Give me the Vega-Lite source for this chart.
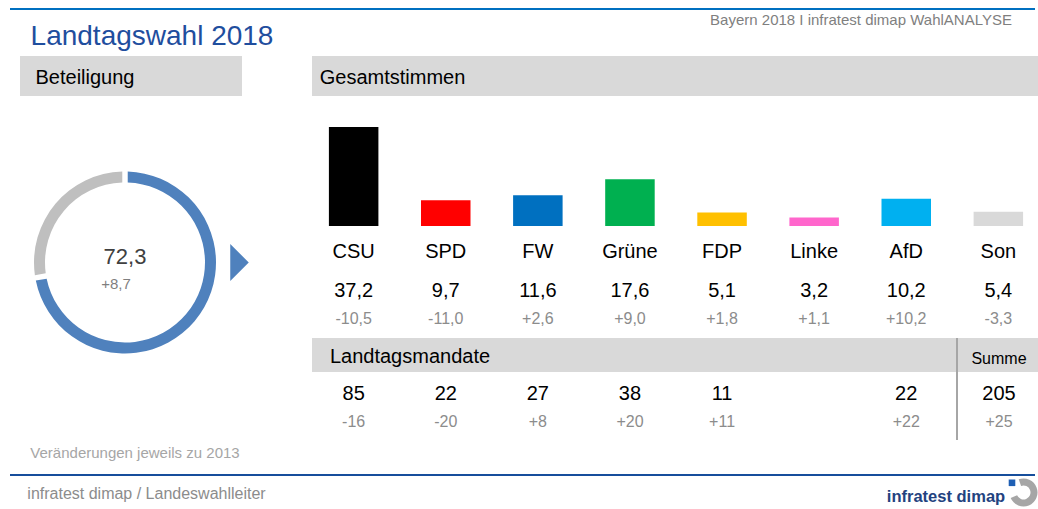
{
  "$schema": "https://vega.github.io/schema/vega-lite/v6.json",
  "background": "white",
  "padding": {"left": 10, "top": 8, "right": 0, "bottom": 0},
  "spacing": 0,
  "config": {
    "font": "Liberation Sans",
    "view": {"stroke": null},
    "concat": {"spacing": 0},
    "locale": {"number": {"decimal": ",", "thousands": ".", "grouping": [3], "currency": ["", " €"], "minus": "-"}}
  },
  "datasets": {
    "parties": [
      {"party": "CSU", "share": 37.2, "shareChange": -10.5, "seats": 85, "seatChange": -16},
      {"party": "SPD", "share": 9.7, "shareChange": -11.0, "seats": 22, "seatChange": -20},
      {"party": "FW", "share": 11.6, "shareChange": 2.6, "seats": 27, "seatChange": 8},
      {"party": "Grüne", "share": 17.6, "shareChange": 9.0, "seats": 38, "seatChange": 20},
      {"party": "FDP", "share": 5.1, "shareChange": 1.8, "seats": 11, "seatChange": 11},
      {"party": "Linke", "share": 3.2, "shareChange": 1.1, "seats": null, "seatChange": null},
      {"party": "AfD", "share": 10.2, "shareChange": 10.2, "seats": 22, "seatChange": 22},
      {"party": "Son", "share": 5.4, "shareChange": -3.3, "seats": null, "seatChange": null}
    ],
    "total": [{"label": "Summe", "seats": 205, "seatChange": 25}],
    "turnout": [
      {"segment": "Wähler", "value": 72.3, "change": 8.7},
      {"segment": "Nichtwähler", "value": 27.7, "change": null}
    ]
  },
  "vconcat": [
    {"width": 1025, "height": 2, "data": {"values": [{"line": "oben"}]}, "mark": {"type": "rect", "color": "#0070c0"}},
    {
      "hconcat": [
        {"width": 284, "height": 46, "data": {"values": [{"label": "Landtagswahl 2018"}]},
         "mark": {"type": "text", "fontSize": 28, "color": "#1f4e9e", "baseline": "alphabetic", "dy": 12},
         "encoding": {"text": {"field": "label", "type": "nominal"}}},
        {"width": 316, "height": 20, "data": {"values": [{"label": "Bayern 2018 I infratest dimap WahlANALYSE"}]},
         "mark": {"type": "text", "fontSize": 15, "color": "#7f7f7f", "baseline": "alphabetic", "dy": 5},
         "encoding": {"text": {"field": "label", "type": "nominal"}}}
      ],
      "spacing": 409
    },
    {
      "hconcat": [
        {"width": 10, "height": 1, "data": {"values": [{"leer": 1}]}, "mark": {"type": "rect", "opacity": 0}},
        {
          "vconcat": [
            {"hconcat": [
              {"width": 130, "height": 40, "data": {"values": [{"label": "Beteiligung"}]},
               "layer": [
                 {"mark": {"type": "rect", "color": "#d9d9d9"}},
                 {"mark": {"type": "text", "fontSize": 20, "color": "#000000", "baseline": "alphabetic", "dy": 8},
                  "encoding": {"text": {"field": "label", "type": "nominal"}}}
               ]},
              {"width": 92, "height": 40, "data": {"values": [{"band": "Kopf"}]}, "mark": {"type": "rect", "color": "#d9d9d9"}}
            ], "spacing": 0},
            {"hconcat": [
              {"width": 210, "height": 333, "data": {"name": "turnout"},
               "layer": [
                 {"mark": {"type": "arc", "innerRadius": 80, "outerRadius": 91, "padAngle": 0.045},
                  "encoding": {
                    "theta": {"field": "value", "type": "quantitative", "stack": true},
                    "order": {"field": "value", "type": "quantitative", "sort": "descending"},
                    "fill": {"condition": {"test": "datum.segment === 'Wähler'", "value": "#4f81bd"}, "value": "#bfbfbf"}
                  }},
                 {"transform": [{"filter": "datum.segment === 'Wähler'"}],
                  "mark": {"type": "text", "fontSize": 22, "color": "#404040", "baseline": "alphabetic", "dy": 1},
                  "encoding": {"text": {"field": "value", "type": "quantitative", "format": ".1f"}}},
                 {"transform": [{"filter": "datum.segment === 'Wähler'"}],
                  "mark": {"type": "text", "fontSize": 15, "color": "#7f7f7f", "baseline": "alphabetic", "dy": 26, "dx": -9},
                  "encoding": {"text": {"field": "change", "type": "quantitative", "format": "+.1f"}}}
               ]},
              {"width": 19, "height": 333, "data": {"values": [{"marker": "Pfeil"}]},
               "mark": {"type": "point", "shape": "M-0.5,-1L0.5,0L-0.5,1Z", "size": 1369, "filled": true, "color": "#4f81bd", "opacity": 1}}
            ], "spacing": 0}
          ],
          "spacing": 0
        },
        {"width": 63, "height": 1, "data": {"values": [{"leer": 1}]}, "mark": {"type": "rect", "opacity": 0}},
        {
          "vconcat": [
            {"hconcat": [
              {"width": 161, "height": 40, "data": {"values": [{"label": "Gesamtstimmen"}]},
               "layer": [
                 {"mark": {"type": "rect", "color": "#d9d9d9"}},
                 {"mark": {"type": "text", "fontSize": 20, "color": "#000000", "baseline": "alphabetic", "dy": 8},
                  "encoding": {"text": {"field": "label", "type": "nominal"}}}
               ]},
              {"width": 567, "height": 40, "data": {"values": [{"band": "Kopf"}]}, "mark": {"type": "rect", "color": "#d9d9d9"}}
            ], "spacing": 0},
            {"width": 728, "height": 130, "data": {"name": "parties"},
             "mark": {"type": "bar"},
             "encoding": {
               "x": {"field": "party", "type": "nominal",
                     "scale": {"type": "band", "domain": ["CSU", "SPD", "FW", "Grüne", "FDP", "Linke", "AfD", "Son"], "paddingInner": 0.4625, "paddingOuter": 0.1835},
                     "axis": null},
               "y": {"field": "share", "type": "quantitative", "scale": {"domain": [0, 48.85], "nice": false}, "axis": null},
               "color": {"field": "party", "type": "nominal",
                         "scale": {"domain": ["CSU", "SPD", "FW", "Grüne", "FDP", "Linke", "AfD", "Son"],
                                   "range": ["#000000", "#ff0000", "#0070c0", "#00b050", "#ffc000", "#ff66cc", "#00b0f0", "#d9d9d9"]},
                         "legend": null}
             }},
            {"width": 728, "height": 112, "data": {"name": "parties"},
             "encoding": {
               "x": {"field": "party", "type": "nominal", "bandPosition": 0.5,
                     "scale": {"type": "band", "domain": ["CSU", "SPD", "FW", "Grüne", "FDP", "Linke", "AfD", "Son"], "paddingInner": 0.4625, "paddingOuter": 0.1835},
                     "axis": null}
             },
             "layer": [
               {"mark": {"type": "text", "fontSize": 20, "color": "#000000", "baseline": "alphabetic", "dy": -24},
                "encoding": {"text": {"field": "party", "type": "nominal"}}},
               {"mark": {"type": "text", "fontSize": 20, "color": "#000000", "baseline": "alphabetic", "dy": 15},
                "encoding": {"text": {"field": "share", "type": "quantitative", "format": ".1f"}}},
               {"mark": {"type": "text", "fontSize": 16, "color": "#8c8c8c", "baseline": "alphabetic", "dy": 42},
                "encoding": {"text": {"field": "shareChange", "type": "quantitative", "format": "+.1f"}}}
             ]},
            {"hconcat": [
              {"vconcat": [
                {"hconcat": [
                  {"width": 196, "height": 34, "data": {"values": [{"label": "Landtagsmandate"}]},
                   "layer": [
                     {"mark": {"type": "rect", "color": "#d9d9d9"}},
                     {"mark": {"type": "text", "fontSize": 20, "color": "#000000", "baseline": "alphabetic", "dy": 8},
                      "encoding": {"text": {"field": "label", "type": "nominal"}}}
                   ]},
                  {"width": 448, "height": 34, "data": {"values": [{"band": "Kopf"}]}, "mark": {"type": "rect", "color": "#d9d9d9"}}
                ], "spacing": 0},
                {"width": 644, "height": 68, "data": {"name": "parties"},
                 "transform": [{"filter": "isValid(datum.seats)"}],
                 "encoding": {
                   "x": {"field": "party", "type": "nominal", "bandPosition": 0.5,
                         "scale": {"type": "band", "domain": ["CSU", "SPD", "FW", "Grüne", "FDP", "Linke", "AfD"], "paddingInner": 0.4625, "paddingOuter": 0.2275, "align": 0.4033},
                         "axis": null}
                 },
                 "layer": [
                   {"mark": {"type": "text", "fontSize": 20, "color": "#000000", "baseline": "alphabetic", "dy": -6},
                    "encoding": {"text": {"field": "seats", "type": "quantitative", "format": "d"}}},
                   {"mark": {"type": "text", "fontSize": 16, "color": "#8c8c8c", "baseline": "alphabetic", "dy": 21},
                    "encoding": {"text": {"field": "seatChange", "type": "quantitative", "format": "+d"}}}
                 ]}
              ], "spacing": 0},
              {"width": 2, "height": 102, "data": {"values": [{"line": "Trenner"}]}, "mark": {"type": "rect", "color": "#a6a6a6"}},
              {"vconcat": [
                {"width": 82, "height": 34, "data": {"values": [{"label": "Summe"}]},
                 "layer": [
                   {"mark": {"type": "rect", "color": "#d9d9d9"}},
                   {"mark": {"type": "text", "fontSize": 16, "color": "#000000", "baseline": "alphabetic", "dy": 9},
                    "encoding": {"text": {"field": "label", "type": "nominal"}}}
                 ]},
                {"width": 82, "height": 68, "data": {"name": "total"},
                 "layer": [
                   {"mark": {"type": "text", "fontSize": 20, "color": "#000000", "baseline": "alphabetic", "dy": -6},
                    "encoding": {"text": {"field": "seats", "type": "quantitative", "format": "d"}}},
                   {"mark": {"type": "text", "fontSize": 16, "color": "#8c8c8c", "baseline": "alphabetic", "dy": 21},
                    "encoding": {"text": {"field": "seatChange", "type": "quantitative", "format": "+d"}}}
                 ]}
              ], "spacing": 0}
            ], "spacing": 0}
          ],
          "spacing": 0
        }
      ],
      "spacing": 0
    },
    {"width": 250, "height": 34, "data": {"values": [{"label": "Veränderungen jeweils zu 2013"}]},
     "mark": {"type": "text", "fontSize": 15, "color": "#a6a6a6", "baseline": "alphabetic", "dy": 1},
     "encoding": {"text": {"field": "label", "type": "nominal"}}},
    {"width": 1025, "height": 2, "data": {"values": [{"line": "unten"}]}, "mark": {"type": "rect", "color": "#164e9c"}},
    {
      "hconcat": [
        {"width": 273, "height": 33, "data": {"values": [{"label": "infratest dimap / Landeswahlleiter"}]},
         "mark": {"type": "text", "fontSize": 16, "color": "#8c8c8c", "baseline": "alphabetic", "dy": 6.5},
         "encoding": {"text": {"field": "label", "type": "nominal"}}},
        {"hconcat": [
          {"width": 124, "height": 33, "data": {"values": [{"label": "infratest dimap"}]},
           "mark": {"type": "text", "fontSize": 16.5, "fontWeight": "bold", "color": "#23427f", "baseline": "alphabetic", "dy": 9},
           "encoding": {"text": {"field": "label", "type": "nominal"}}},
          {"width": 31, "height": 33, "data": {"values": [{"logo": "infratest dimap"}]},
           "layer": [
             {"mark": {"type": "arc", "theta": -0.35, "theta2": 4.3, "innerRadius": 7, "outerRadius": 14, "color": "#a6a6a6"}},
             {"mark": {"type": "point", "shape": "M-14.8,-13L-8.2,-13L-8.2,-6.4L-14.8,-6.4Z", "size": 4, "filled": true, "color": "#1e5fb4", "opacity": 1}}
           ]}
        ], "spacing": 0}
      ],
      "spacing": 601
    }
  ]
}
